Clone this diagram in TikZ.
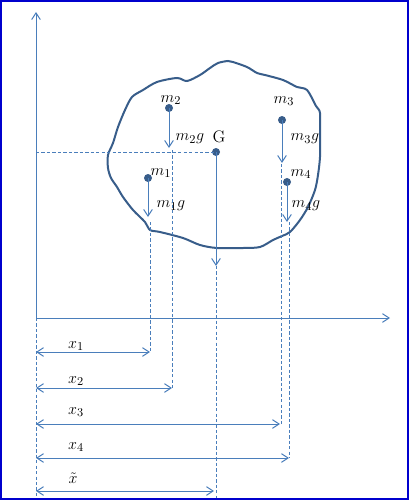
\documentclass[tikz,border=0pt]{standalone}
\usetikzlibrary{arrows.meta}
\definecolor{ln}{HTML}{4A7EBB}
\definecolor{dk}{HTML}{385D8A}
\definecolor{bd}{RGB}{0,0,205}
\begin{document}
\begin{tikzpicture}[x=0.75pt,y=-0.75pt,
  ln/.style={draw=ln,line width=0.75pt},
  dsh/.style={ln,dash pattern=on 2.5pt off 1.6pt},
  tip/.style={-{Straight Barb[length=5pt,width=6.5pt]}},
  dtip/.style={{Straight Barb[length=5pt,width=6.5pt]}-{Straight Barb[length=5pt,width=6.5pt]}},
  dot/.style={circle,fill=dk,inner sep=0pt,minimum size=6pt},
  lab/.style={inner sep=0pt,font=\fontsize{12.5pt}{14pt}\selectfont}]
\useasboundingbox (0,0) rectangle (409,500);
\draw[bd,line width=1.5pt] (1,1) rectangle (408,499);
% axes
\coordinate (O) at (36,318);
\coordinate (Ytop) at (36,12);
\coordinate (Xend) at (390,318);
\draw[ln,tip] (O) -- (Ytop);
\draw[ln,tip] (O) -- (Xend);
% blob
\draw[dk,line width=1.5pt] plot[smooth cycle,tension=0.5] coordinates{
(228,61) (218,63) (210,68) (200,75) (187,81) (177,78) (157,82) (143,90) (132,97)
(125,110) (118,127) (113,143) (108,155) (108,168) (111,178) (117,187) (123,197)
(133,210) (145,222) (150,230) (160,232) (183,238) (200,245) (217,248) (243,248)
(260,247) (273,240) (282,236) (290,232) (300,220) (308,207) (315,190) (318,175)
(320,157) (320,135) (320,113) (316,106) (307,90) (297,87) (283,80) (265,75)
(257,73) (247,67) (233,62)};
% dots
\node[dot] (G) at (216,152) {};
\node[dot] (m2) at (169,108) {};
\node[dot] (m1) at (148,178) {};
\node[dot] (m3) at (282,120) {};
\node[dot] (m4) at (287,182) {};
% labels
\node[lab] (lG) at (219,137) {G};
\node[lab] (l2) at (171,100) {$m_2$};
\node[lab] (l2g) at (190,139) {$m_2g$};
\node[lab] (l1) at (161,173) {$m_1$};
\node[lab] (l1g) at (171,206) {$m_1g$};
\node[lab] (l3) at (284,101) {$m_3$};
\node[lab] (l3g) at (305,139) {$m_3g$};
\node[lab] (l4) at (301,174) {$m_4$};
\node[lab] (l4g) at (306,206) {$m_4g$};
% force arrows
\coordinate (t2) at (169,148);
\coordinate (t1) at (148,217);
\coordinate (t3) at (282,163);
\coordinate (t4) at (287,222);
\coordinate (tG) at (216,266);
\draw[ln,tip] (m2.center) -- (t2);
\draw[ln,tip] (m1.center) -- (t1);
\draw[ln,tip] (m3.center) -- (t3);
\draw[ln,tip] (m4.center) -- (t4);
\draw[ln,tip] (G.center) -- (tG);
% horizontal dashed
\coordinate (hL) at (36,152);
\draw[dsh] (hL) -- (G.center);
% bottom dimension lines
\coordinate (a1) at (36,352); \coordinate (b1) at (150,352);
\coordinate (a2) at (36,388); \coordinate (b2) at (172,388);
\coordinate (a3) at (36,424); \coordinate (b3) at (280,424);
\coordinate (a4) at (36,458); \coordinate (b4) at (289,458);
\coordinate (a5) at (36,491); \coordinate (b5) at (214,491);
\draw[ln,dtip] (a1) -- (b1);
\draw[ln,dtip] (a2) -- (b2);
\draw[ln,dtip] (a3) -- (b3);
\draw[ln,dtip] (a4) -- (b4);
\draw[ln,dtip] (a5) -- (b5);
% dashed verticals
\coordinate (d1) at (150,222);
\coordinate (d2) at (172,150);
\coordinate (d3) at (281,164);
\coordinate (d4) at (289,222);
\coordinate (dGb) at (216,498);
\coordinate (dLb) at (36,498);
\draw[dsh] (d1) -- (b1);
\draw[dsh] (d2) -- (b2);
\draw[dsh] (d3) -- (281,424);
\draw[dsh] (d4) -- (b4);
\draw[dsh] (tG) -- (dGb);
\draw[dsh] (O) -- (dLb);
% x labels
\node[lab] (x1) at (76,346) {$x_1$};
\node[lab] (x2) at (76,381) {$x_2$};
\node[lab] (x3) at (76,412) {$x_3$};
\node[lab] (x4) at (76,447) {$x_4$};
\node[lab] (xt) at (73,478) {$\tilde{x}$};
\end{tikzpicture}
\end{document}
